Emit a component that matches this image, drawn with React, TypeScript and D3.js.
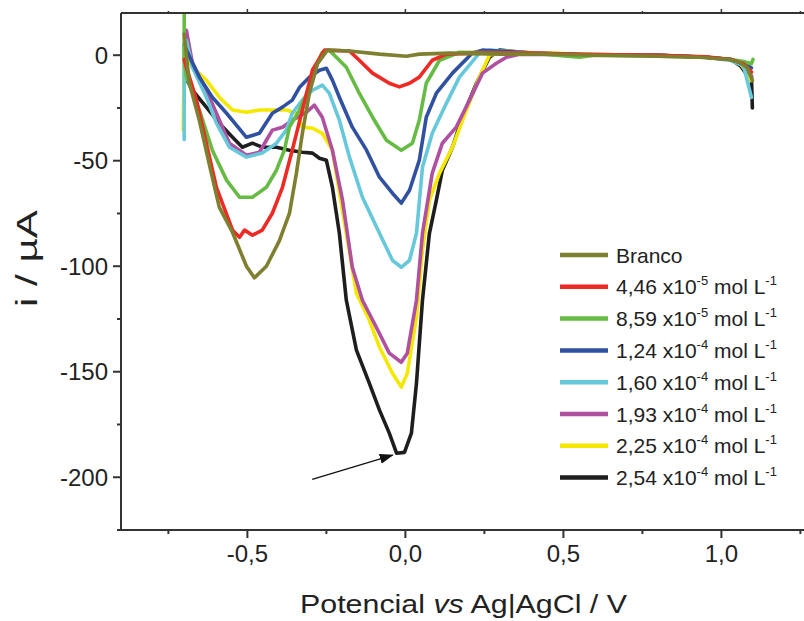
import React from "react";
import * as d3 from "d3";

type P = [number, number];

// Cyclic voltammetry series (E / V, i / µA)
const branco: P[] = [[-0.70,10],[-0.684,-13],[-0.652,-31],[-0.614,-56],[-0.589,-72],[-0.547,-84],[-0.503,-100],[-0.478,-105.5],[-0.440,-100],[-0.399,-88],[-0.367,-75],[-0.345,-56],[-0.326,-37],[-0.304,-18],[-0.278,-4],[-0.247,2.4],[-0.177,2],[-0.082,0.5],[0.003,-0.5],[0.044,0.5],[0.139,1],[0.3,0.5],[0.45,0.5],[0.61,0],[0.8,-0.5],[0.93,-1],[1.025,-2],[1.057,-3.3],[1.082,-6],[1.098,-12]];
const s446: P[] = [[-0.70,-2],[-0.693,-5.7],[-0.661,-21.3],[-0.630,-41.7],[-0.598,-62.6],[-0.547,-82.9],[-0.525,-86.3],[-0.509,-82.9],[-0.484,-85.3],[-0.453,-82.9],[-0.421,-74.9],[-0.389,-62.6],[-0.358,-45],[-0.326,-26],[-0.294,-7],[-0.256,2.4],[-0.177,2],[-0.146,-2.4],[-0.104,-8.5],[-0.051,-13.3],[-0.019,-15],[0.013,-13.3],[0.044,-10.4],[0.085,-2.4],[0.130,0.5],[0.234,1],[0.4,1],[0.6,0.3],[0.8,0],[0.95,-0.8],[1.03,-2],[1.07,-4],[1.095,-8]];
const s859: P[] = [[-0.70,20],[-0.70,-2],[-0.693,-10.4],[-0.652,-26],[-0.611,-45],[-0.566,-59.2],[-0.525,-67.3],[-0.484,-67.3],[-0.440,-62.6],[-0.408,-54.5],[-0.383,-45],[-0.367,-34.1],[-0.335,-26],[-0.304,-15.2],[-0.282,-4.7],[-0.263,1.4],[-0.241,2.4],[-0.187,-5.7],[-0.146,-18],[-0.104,-29.4],[-0.060,-40.3],[-0.013,-45],[0.022,-41.7],[0.044,-30.8],[0.066,-13.3],[0.108,-2.4],[0.171,1.4],[0.4,1],[0.55,-1],[0.6,0],[0.8,-0.5],[0.95,-1],[1.03,-2],[1.07,-3],[1.095,-4],[1.1,-2]];
const s124: P[] = [[-0.70,5],[-0.693,2.4],[-0.652,-10.4],[-0.611,-19.9],[-0.566,-27.5],[-0.503,-38.9],[-0.462,-37],[-0.421,-27.5],[-0.389,-24.6],[-0.358,-21.3],[-0.335,-15.2],[-0.304,-10.4],[-0.272,-7.1],[-0.250,-6.2],[-0.231,-11.8],[-0.209,-19.9],[-0.168,-34.1],[-0.123,-45],[-0.082,-57.8],[-0.041,-65.4],[-0.013,-70.1],[0.013,-64],[0.044,-49.8],[0.066,-29.4],[0.098,-18],[0.149,-8.5],[0.212,1],[0.244,2.4],[0.4,1],[0.6,0],[0.8,0],[0.95,-1],[1.03,-2],[1.07,-4],[1.095,-6]];
const s160: P[] = [[-0.70,-40],[-0.70,5],[-0.693,7],[-0.674,-5.7],[-0.630,-19.9],[-0.598,-32.2],[-0.557,-43.6],[-0.503,-48.3],[-0.453,-46.4],[-0.408,-41.7],[-0.377,-35.5],[-0.358,-27.5],[-0.326,-21.3],[-0.294,-16.6],[-0.263,-14.2],[-0.241,-18],[-0.209,-30.8],[-0.177,-48.3],[-0.136,-67.3],[-0.082,-84.4],[-0.041,-97.2],[-0.013,-100.5],[0.013,-97.2],[0.035,-84.4],[0.054,-53.1],[0.085,-37],[0.130,-22.7],[0.171,-10.4],[0.234,1],[0.266,2.4],[0.4,1],[0.6,0],[0.8,0],[0.95,-1],[1.03,-2.5],[1.07,-5],[1.095,-20]];
const s193: P[] = [[-0.693,11.8],[-0.674,-3.8],[-0.630,-16.6],[-0.598,-27.5],[-0.557,-41.7],[-0.503,-47.4],[-0.462,-46],[-0.440,-40.3],[-0.421,-35.5],[-0.389,-34.1],[-0.358,-30.8],[-0.313,-27],[-0.288,-23.7],[-0.263,-29.4],[-0.231,-45],[-0.199,-68.7],[-0.168,-100.5],[-0.136,-116.1],[-0.092,-128.9],[-0.051,-141.2],[-0.013,-145.5],[0.006,-141.2],[0.035,-116.1],[0.054,-84.4],[0.085,-55.9],[0.117,-41.7],[0.161,-34.1],[0.203,-21.3],[0.244,-8.5],[0.288,-3.8],[0.320,-1],[0.361,0.5],[0.6,0.3],[0.8,0],[0.95,-1],[1.03,-2],[1.07,-4],[1.095,-10]];
const s225: P[] = [[-0.703,-35.5],[-0.70,2.4],[-0.674,-5.7],[-0.630,-11.8],[-0.589,-19.9],[-0.547,-26],[-0.503,-27],[-0.462,-26],[-0.421,-26],[-0.377,-26],[-0.345,-27.5],[-0.326,-34.1],[-0.294,-34.6],[-0.263,-37],[-0.231,-45],[-0.187,-84.4],[-0.155,-112.8],[-0.114,-125.6],[-0.082,-138.4],[-0.041,-150.7],[-0.013,-157.3],[0.006,-150.7],[0.035,-124.2],[0.054,-92.4],[0.076,-68.7],[0.108,-55.9],[0.149,-43.6],[0.193,-26],[0.234,-10.4],[0.266,0],[0.320,1.9],[0.361,1.4],[0.6,0.3],[0.8,0],[0.95,-1],[1.02,-2],[1.06,-4],[1.08,-8],[1.095,-12]];
const s254: P[] = [[-0.70,-9.5],[-0.674,-16.6],[-0.630,-24.6],[-0.589,-32.2],[-0.547,-38.9],[-0.516,-43.6],[-0.484,-41.7],[-0.453,-43.6],[-0.408,-43.6],[-0.367,-45],[-0.326,-46],[-0.294,-46.4],[-0.272,-48.8],[-0.250,-49.8],[-0.231,-62.6],[-0.209,-84.4],[-0.187,-116.1],[-0.155,-139.8],[-0.114,-155.5],[-0.082,-168.2],[-0.051,-179.1],[-0.028,-188.6],[-0.003,-188.2],[0.019,-179.1],[0.035,-155.5],[0.054,-116.1],[0.076,-84.4],[0.098,-68.7],[0.117,-54.5],[0.149,-43.6],[0.180,-29.4],[0.225,-13.3],[0.266,-1],[0.297,2.4],[0.4,1],[0.6,0],[0.8,0],[0.95,-1],[1.03,-2],[1.06,-5],[1.075,-8],[1.095,-10],[1.098,-25]];

const seriesData: P[][] = [branco, s446, s859, s124, s160, s193, s225, s254];
const colors = ["#7f7f30", "#ee2a24", "#66bb44", "#3050a0", "#66c8da", "#b050a0", "#f5e800", "#1e1e1e"];
const mantissas = ["", "4,46", "8,59", "1,24", "1,60", "1,93", "2,25", "2,54"];
const exponents = ["", "-5", "-5", "-4", "-4", "-4", "-4", "-4"];

const xTicks = [-0.5, 0, 0.5, 1.0];
const xTickLabels = ["-0,5", "0,0", "0,5", "1,0"];
const xMinor = [-0.75, -0.25, 0.25, 0.75, 1.25];
const yTicks = [0, -50, -100, -150, -200];
const yMinor = [-25, -75, -125, -175, -225];

const FONT = "'Liberation Sans', Arial, Helvetica, sans-serif";

export default function App() {
  const W = 804, H = 621;
  const left = 121, top = 13, bottom = 530;
  const x = d3.scaleLinear().domain([-0.9, 1.3]).range([left, left + 2.2 * 316]);
  const y = d3.scaleLinear().domain([-225, 20]).range([bottom, top]);
  const line = d3.line<P>().x(d => x(d[0])).y(d => y(d[1])).curve(d3.curveLinear);
  const axisColor = "#333";
  const order = [7, 6, 5, 4, 3, 2, 1, 0];

  return (
    <svg width={W} height={H} style={{ position: "absolute", left: 0, top: 0, background: "#fff" }} fontFamily={FONT}>
      <defs>
        <clipPath id="plot">
          <rect x={left} y={top} width={W - left} height={bottom - top} />
        </clipPath>
        <marker id="ah" markerWidth="14" markerHeight="10" refX="13" refY="5" orient="auto" markerUnits="userSpaceOnUse">
          <path d="M0,0 L14,5 L0,10 Z" fill="#111" />
        </marker>
      </defs>
      <rect x={0} y={0} width={W} height={H} fill="#fff" />

      {/* curves */}
      <g clipPath="url(#plot)">
        {order.map(i => (
          <path key={i} d={line(seriesData[i]) || ""} fill="none" stroke={colors[i]} strokeWidth={3.6} strokeLinejoin="round" strokeLinecap="round" />
        ))}
      </g>

      {/* frame */}
      <line x1={left} y1={top} x2={W} y2={top} stroke={axisColor} strokeWidth={2} />
      <line x1={left} y1={top} x2={left} y2={bottom} stroke={axisColor} strokeWidth={2} />
      <line x1={left - 1} y1={bottom} x2={W} y2={bottom} stroke={axisColor} strokeWidth={2} />

      {/* x ticks */}
      {xTicks.map((t, i) => (
        <g key={"xt" + i}>
          <line x1={x(t)} x2={x(t)} y1={bottom} y2={bottom + 8} stroke={axisColor} strokeWidth={2} />
          <line x1={x(t)} x2={x(t)} y1={top} y2={top - 4} stroke={axisColor} strokeWidth={1.5} />
          <text x={x(t)} y={bottom + 32} textAnchor="middle" fontSize={24} fill="#222">{xTickLabels[i]}</text>
        </g>
      ))}
      {xMinor.map((t, i) => (
        <g key={"xm" + i}>
          <line x1={x(t)} x2={x(t)} y1={bottom} y2={bottom + 4} stroke={axisColor} strokeWidth={2} />
          <line x1={x(t)} x2={x(t)} y1={top} y2={top - 2} stroke={axisColor} strokeWidth={1.5} />
        </g>
      ))}

      {/* y ticks */}
      {yTicks.map((t, i) => (
        <g key={"yt" + i}>
          <line x1={left - 8} x2={left} y1={y(t)} y2={y(t)} stroke={axisColor} strokeWidth={2} />
          <text x={left - 13} y={y(t) + 8.5} textAnchor="end" fontSize={24} fill="#222">{String(t)}</text>
        </g>
      ))}
      {yMinor.map((t, i) => (
        <line key={"ym" + i} x1={left - 4} x2={left} y1={y(t)} y2={y(t)} stroke={axisColor} strokeWidth={2} />
      ))}

      {/* axis titles */}
      <text x={300} y={613} fontSize={26} fill="#222" textLength={327} lengthAdjust="spacingAndGlyphs">
        Potencial <tspan fontStyle="italic">vs</tspan> Ag|AgCl / V
      </text>
      <text transform="translate(37,307) rotate(-90)" fontSize={30} fill="#222" textLength={97} lengthAdjust="spacingAndGlyphs">i / µA</text>

      {/* arrow */}
      <line x1={x(-0.295)} y1={y(-201)} x2={x(-0.04)} y2={y(-189.5)} stroke="#111" strokeWidth={1.2} markerEnd="url(#ah)" />

      {/* legend */}
      {seriesData.map((_, i) => {
        const ly = 255 + i * 31.8;
        return (
          <g key={"lg" + i}>
            <line x1={560} x2={608} y1={ly} y2={ly} stroke={colors[i]} strokeWidth={4.5} />
            {i === 0 ? (
              <text x={616} y={ly + 7.5} fontSize={21} fill="#222">Branco</text>
            ) : (
              <text x={616} y={ly + 7.5} fontSize={21} fill="#222">
                {mantissas[i]} x10<tspan dy={-9} fontSize={13}>{exponents[i]}</tspan>
                <tspan dy={9}> mol L</tspan><tspan dy={-9} fontSize={13}>-1</tspan>
              </text>
            )}
          </g>
        );
      })}
    </svg>
  );
}
